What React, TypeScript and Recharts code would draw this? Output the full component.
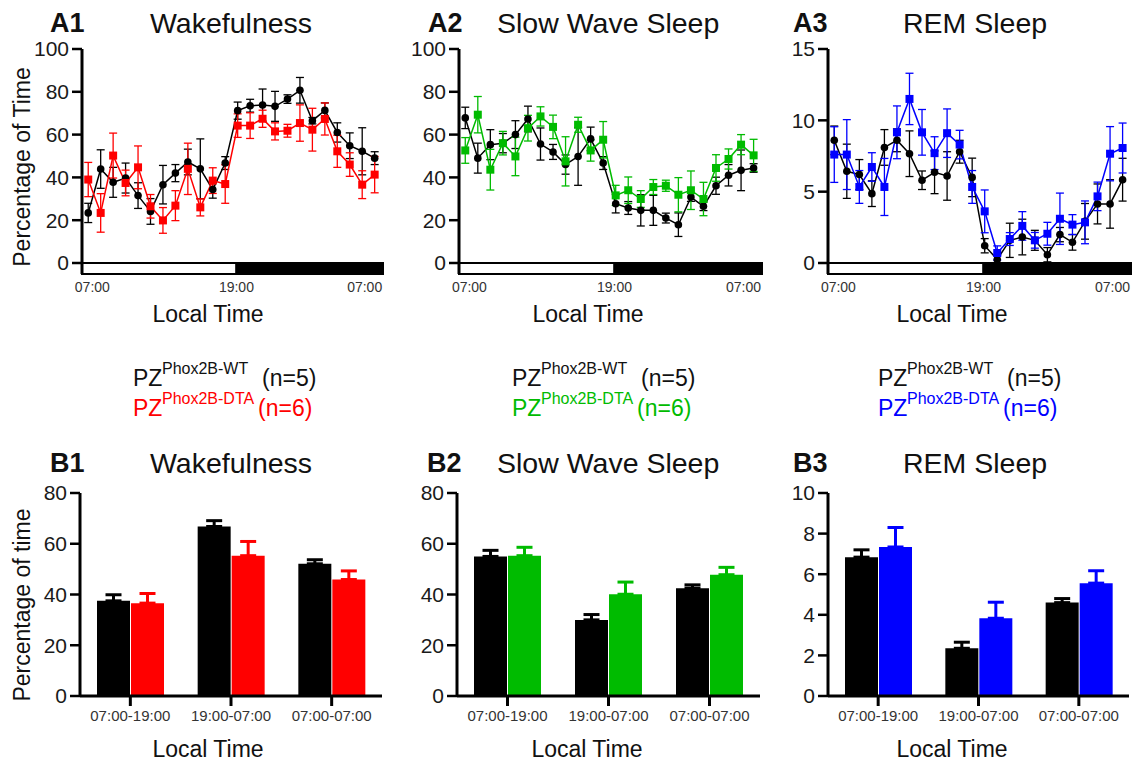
import React from "react";
import {
  ComposedChart,
  BarChart,
  Line,
  Bar,
  XAxis,
  YAxis,
  ErrorBar,
  ReferenceArea,
} from "recharts";

const FONT = '"Liberation Sans", Arial, Helvetica, sans-serif';

// hourly bins, 07:00 -> 07:00
const HOUR_BINS = [0, 1, 2, 3, 4, 5, 6, 7, 8, 9, 10, 11, 12, 13, 14, 15, 16, 17, 18, 19, 20, 21, 22, 23];
const TIME_TICK_POS = [0.33, 11.9, 22.2];
const TIME_TICK_LABELS = ["07:00", "19:00", "07:00"];
const LIGHTS_OFF = 11.9;
const X_MIN = -0.5;
const X_MAX = 23.67;

const WAKE_WT = [23.4, 43.9, 37.7, 39.7, 31.5, 24.1, 36.6, 42, 47.2, 44, 34.3, 46.7, 71.2, 73.5, 73.8, 73.2, 76.6, 80.7, 66.5, 71.3, 61, 54.8, 52.2, 49];
const WAKE_WT_SEM = [4.5, 9, 7, 7, 6, 6, 9, 4, 6, 14, 4, 3, 4, 3, 7.5, 7, 2, 6, 1.5, 3.5, 4.5, 6, 11, 3];
const WAKE_DTA = [39, 23.4, 50.2, 37.4, 44.7, 26.5, 19.9, 26.8, 44, 26, 38.5, 36.9, 64.2, 64.2, 67.4, 61.5, 61.8, 65.4, 62.3, 67.3, 52.2, 46, 36.6, 41.3];
const WAKE_DTA_SEM = [8, 9, 10.5, 6, 10, 5.5, 6, 7, 12, 4, 6, 9, 5.5, 6, 4, 4, 3, 8.5, 10, 7.5, 7.5, 5.5, 6.5, 8.5];

const SWS_WT = [67.8, 49, 55.3, 56, 60, 67.3, 55.6, 51.9, 46, 49.8, 58, 46.7, 27.7, 25.7, 24.6, 24.6, 21, 17.9, 30.8, 26.5, 36.1, 41, 43.3, 44.4];
const SWS_WT_SEM = [5, 7, 7, 4.5, 6.5, 6, 7.5, 3.5, 4.5, 13.5, 5.5, 3, 4.3, 3, 7.3, 7, 2.3, 5.5, 2, 2, 4, 5, 9.5, 2];
const SWS_DTA = [52.6, 69.3, 43.6, 56, 49.8, 63, 68.5, 63.6, 47.5, 64.6, 52.6, 57.6, 31.6, 34, 29.9, 35.5, 36.1, 31.9, 34, 29.9, 44.4, 48.6, 55.3, 50.3];
const SWS_DTA_SEM = [6, 8.5, 9.5, 5.5, 9, 6, 4.5, 5.5, 11.5, 3.5, 5, 8.5, 4.7, 6.2, 3.9, 3.5, 2.6, 8, 9, 7.8, 6.2, 4.7, 4.7, 7.5];

const REM_WT = [8.6, 6.43, 6.2, 4.86, 8.1, 8.6, 7.66, 5.8, 6.36, 6.1, 7.8, 6.0, 1.21, 0.25, 1.59, 1.82, 1.59, 0.58, 1.99, 1.45, 2.92, 4.14, 4.14, 5.84];
const REM_WT_SEM = [1.0, 1.9, 1.05, 0.9, 1.25, 0.8, 1.6, 0.65, 1.5, 1.7, 0.8, 1.35, 0.5, 0.3, 1.2, 1.25, 0.7, 0.5, 0.5, 0.55, 1.25, 1.4, 1.7, 1.5];
const REM_DTA = [7.6, 7.6, 5.33, 6.73, 5.33, 9.16, 11.5, 9.16, 7.7, 9.1, 8.3, 5.33, 3.62, 0.7, 1.68, 2.6, 1.59, 2.05, 3.1, 2.69, 2.85, 4.67, 7.66, 8.06];
const REM_DTA_SEM = [1.95, 2.45, 1.15, 1.0, 2.0, 1.85, 1.8, 1.6, 1.15, 1.7, 1.0, 1.15, 1.5, 0.5, 0.45, 1.0, 0.55, 0.8, 1.8, 0.7, 1.5, 1.0, 1.9, 1.75];

// period averages
const PERIODS = ["07:00-19:00", "19:00-07:00", "07:00-07:00"];
const WAKE_BAR_WT = [37.5, 66.8, 52.1];
const WAKE_BAR_WT_SEM = [2.4, 2.3, 1.6];
const WAKE_BAR_DTA = [36.6, 55.3, 45.9];
const WAKE_BAR_DTA_SEM = [3.8, 5.6, 3.4];
const SWS_BAR_WT = [55.0, 30.0, 42.5];
const SWS_BAR_WT_SEM = [2.4, 2.1, 1.3];
const SWS_BAR_DTA = [55.3, 40.1, 47.8];
const SWS_BAR_DTA_SEM = [3.3, 4.8, 2.9];
const REM_BAR_WT = [6.84, 2.35, 4.6];
const REM_BAR_WT_SEM = [0.36, 0.3, 0.2];
const REM_BAR_DTA = [7.34, 3.83, 5.56];
const REM_BAR_DTA_SEM = [0.96, 0.79, 0.61];

const PCT_TICKS = [0, 20, 40, 60, 80, 100];
const PCT_BAR_TICKS = [0, 20, 40, 60, 80];
const REM_TICKS = [0, 5, 10, 15];
const REM_BAR_TICKS = [0, 2, 4, 6, 8, 10];

const RED = "#ff0000";
const GREEN = "#00bb00";
const BLUE = "#0000ff";

const squareDot = (color: string) => (p: any) => (
  <rect key={`sq-${p.index}`} x={p.cx - 4} y={p.cy - 4} width={8} height={8} fill={color} />
);

type PanelProps = {
  axisX: number;
  plotWidth: number;
  rightPad: number;
  wt: number[];
  wtSem: number[];
  dta: number[];
  dtaSem: number[];
  color: string;
  yMax: number;
  yTicks: number[];
};

function HourlyPanel({ axisX, plotWidth, rightPad, wt, wtSem, dta, dtaSem, color, yMax, yTicks }: PanelProps) {
  const data = HOUR_BINS.map((h, i) => ({ h, wt: wt[i], wtSem: wtSem[i], dta: dta[i], dtaSem: dtaSem[i] }));
  const plotH = 225;
  const zeroPx = 214;
  // light/dark strip sits below zero
  const yMin = (-yMax * (plotH - zeroPx)) / zeroPx;
  return (
    <div style={{ position: "absolute", left: axisX - 82, top: 30 }}>
      <ComposedChart
        width={82 + plotWidth + rightPad}
        height={300}
        data={data}
        margin={{ top: 19, right: rightPad, bottom: 26, left: 0 }}
      >
        <XAxis
          dataKey="h"
          type="number"
          domain={[X_MIN, X_MAX]}
          allowDataOverflow
          ticks={TIME_TICK_POS}
          tickFormatter={(_v: number, i: number) => TIME_TICK_LABELS[i]}
          axisLine={false}
          tickLine={false}
          tickSize={0}
          tickMargin={8}
          height={30}
          tick={{ fill: "#333", fontSize: 14, fontFamily: FONT }}
        />
        <YAxis
          width={82}
          domain={[yMin, yMax]}
          allowDataOverflow
          ticks={yTicks}
          axisLine={{ stroke: "#000", strokeWidth: 3 }}
          tickLine={{ stroke: "#000", strokeWidth: 2.5 }}
          tickSize={10}
          tickMargin={3}
          tick={{ fill: "#1a1a1a", fontSize: 21, fontFamily: FONT }}
        />
        <ReferenceArea x1={X_MIN} x2={LIGHTS_OFF} y1={yMin} y2={0} fill="#fff" fillOpacity={1} stroke="#000" strokeWidth={2} />
        <ReferenceArea x1={LIGHTS_OFF} x2={X_MAX} y1={yMin} y2={0} fill="#000" fillOpacity={1} stroke="#000" strokeWidth={2} />
        <Line
          dataKey="wt"
          stroke="#000"
          strokeWidth={1.5}
          dot={{ r: 3.8, fill: "#000", stroke: "#000", strokeWidth: 0 }}
          isAnimationActive={false}
        >
          <ErrorBar dataKey="wtSem" direction="y" width={4} stroke="#000" strokeWidth={1.3} />
        </Line>
        <Line dataKey="dta" stroke={color} strokeWidth={1.5} dot={squareDot(color)} isAnimationActive={false}>
          <ErrorBar dataKey="dtaSem" direction="y" width={4} stroke={color} strokeWidth={1.3} />
        </Line>
      </ComposedChart>
    </div>
  );
}

function PeriodPanel({ axisX, plotWidth, rightPad, wt, wtSem, dta, dtaSem, color, yMax, yTicks }: PanelProps) {
  const data = PERIODS.map((p, i) => ({
    period: p,
    wt: wt[i],
    wtSem: [0, wtSem[i]],
    dta: dta[i],
    dtaSem: [0, dtaSem[i]],
  }));
  return (
    <div style={{ position: "absolute", left: axisX - 80, top: 470 }}>
      <BarChart
        width={80 + plotWidth + rightPad}
        height={256}
        data={data}
        margin={{ top: 23, right: rightPad, bottom: 0, left: 0 }}
        barSize={33}
        barGap={1}
      >
        <XAxis
          dataKey="period"
          axisLine={{ stroke: "#000", strokeWidth: 3 }}
          tickLine={{ stroke: "#000", strokeWidth: 3 }}
          tickSize={10}
          tickMargin={4}
          height={30}
          interval={0}
          tick={{ fill: "#333", fontSize: 15, fontFamily: FONT }}
        />
        <YAxis
          width={80}
          domain={[0, yMax]}
          ticks={yTicks}
          axisLine={{ stroke: "#000", strokeWidth: 3 }}
          tickLine={{ stroke: "#000", strokeWidth: 2.5 }}
          tickSize={10}
          tickMargin={3}
          tick={{ fill: "#1a1a1a", fontSize: 21, fontFamily: FONT }}
        />
        <Bar dataKey="wt" fill="#000" isAnimationActive={false}>
          <ErrorBar dataKey="wtSem" direction="y" width={8} stroke="#000" strokeWidth={3} />
        </Bar>
        <Bar dataKey="dta" fill={color} isAnimationActive={false}>
          <ErrorBar dataKey="dtaSem" direction="y" width={8} stroke={color} strokeWidth={3} />
        </Bar>
      </BarChart>
    </div>
  );
}

function Txt({ x, base, size, bold, color, children }: any) {
  return (
    <div
      style={{
        position: "absolute",
        left: x,
        top: base - 0.8465 * size,
        fontSize: size,
        lineHeight: 1,
        fontWeight: bold ? 700 : 400,
        color: color || "#111",
        whiteSpace: "nowrap",
        fontFamily: FONT,
      }}
    >
      {children}
    </div>
  );
}

function Centered({ cx, base, size, children }: any) {
  return (
    <div
      style={{
        position: "absolute",
        left: cx - 100,
        width: 200,
        textAlign: "center",
        top: base - 0.8465 * size,
        fontSize: size,
        lineHeight: 1,
        color: "#111",
        whiteSpace: "nowrap",
        fontFamily: FONT,
      }}
    >
      {children}
    </div>
  );
}

function YLabel({ cx, cy, text }: { cx: number; cy: number; text: string }) {
  return (
    <div
      style={{
        position: "absolute",
        left: cx,
        top: cy,
        transform: "translate(-50%, -50%) rotate(-90deg)",
        fontSize: 23,
        lineHeight: 1,
        color: "#111",
        whiteSpace: "nowrap",
        fontFamily: FONT,
      }}
    >
      {text}
    </div>
  );
}

function Legend({ x, color }: { x: number; color: string }) {
  return (
    <>
      <Txt x={x} base={386} size={23} color="#111">PZ</Txt>
      <Txt x={x + 29} base={375} size={16} color="#111">Phox2B-WT</Txt>
      <Txt x={x + 129} base={386} size={23} color="#111">(n=5)</Txt>
      <Txt x={x} base={416} size={23} color={color}>PZ</Txt>
      <Txt x={x + 29} base={405} size={16} color={color}>Phox2B-DTA</Txt>
      <Txt x={x + 125} base={416} size={23} color={color}>(n=6)</Txt>
    </>
  );
}

export default function App() {
  return (
    <div
      style={{
        position: "absolute",
        left: 0,
        top: 0,
        width: 1136,
        height: 761,
        overflow: "hidden",
        background: "#fff",
        fontFamily: FONT,
      }}
    >
      <Txt x={50} base={33} size={27} bold>A1</Txt>
      <Txt x={150} base={33} size={28.5}>Wakefulness</Txt>
      <Txt x={428} base={33} size={27} bold>A2</Txt>
      <Txt x={497} base={33} size={28.5}>Slow Wave Sleep</Txt>
      <Txt x={793} base={33} size={27} bold>A3</Txt>
      <Txt x={903} base={33} size={28.5}>REM Sleep</Txt>

      <Txt x={50} base={473} size={27} bold>B1</Txt>
      <Txt x={150} base={473} size={28.5}>Wakefulness</Txt>
      <Txt x={427} base={473} size={27} bold>B2</Txt>
      <Txt x={497} base={473} size={28.5}>Slow Wave Sleep</Txt>
      <Txt x={793} base={473} size={27} bold>B3</Txt>
      <Txt x={903} base={473} size={28.5}>REM Sleep</Txt>

      <HourlyPanel axisX={82} plotWidth={301} rightPad={17} wt={WAKE_WT} wtSem={WAKE_WT_SEM} dta={WAKE_DTA} dtaSem={WAKE_DTA_SEM} color={RED} yMax={100} yTicks={PCT_TICKS} />
      <HourlyPanel axisX={459} plotWidth={303} rightPad={17} wt={SWS_WT} wtSem={SWS_WT_SEM} dta={SWS_DTA} dtaSem={SWS_DTA_SEM} color={GREEN} yMax={100} yTicks={PCT_TICKS} />
      <HourlyPanel axisX={828} plotWidth={303} rightPad={5} wt={REM_WT} wtSem={REM_WT_SEM} dta={REM_DTA} dtaSem={REM_DTA_SEM} color={BLUE} yMax={15} yTicks={REM_TICKS} />

      <PeriodPanel axisX={80} plotWidth={302} rightPad={17} wt={WAKE_BAR_WT} wtSem={WAKE_BAR_WT_SEM} dta={WAKE_BAR_DTA} dtaSem={WAKE_BAR_DTA_SEM} color={RED} yMax={80} yTicks={PCT_BAR_TICKS} />
      <PeriodPanel axisX={457} plotWidth={303} rightPad={17} wt={SWS_BAR_WT} wtSem={SWS_BAR_WT_SEM} dta={SWS_BAR_DTA} dtaSem={SWS_BAR_DTA_SEM} color={GREEN} yMax={80} yTicks={PCT_BAR_TICKS} />
      <PeriodPanel axisX={828} plotWidth={301} rightPad={7} wt={REM_BAR_WT} wtSem={REM_BAR_WT_SEM} dta={REM_BAR_DTA} dtaSem={REM_BAR_DTA_SEM} color={BLUE} yMax={10} yTicks={REM_BAR_TICKS} />

      <YLabel cx={22} cy={167} text="Percentage of Time" />
      <YLabel cx={22} cy={605} text="Percentage of time" />

      <Centered cx={208} base={322} size={23}>Local Time</Centered>
      <Centered cx={588} base={322} size={23}>Local Time</Centered>
      <Centered cx={952} base={322} size={23}>Local Time</Centered>
      <Centered cx={208} base={757} size={23}>Local Time</Centered>
      <Centered cx={587} base={757} size={23}>Local Time</Centered>
      <Centered cx={952} base={757} size={23}>Local Time</Centered>

      <Legend x={133} color={RED} />
      <Legend x={512} color={GREEN} />
      <Legend x={878} color={BLUE} />
    </div>
  );
}
